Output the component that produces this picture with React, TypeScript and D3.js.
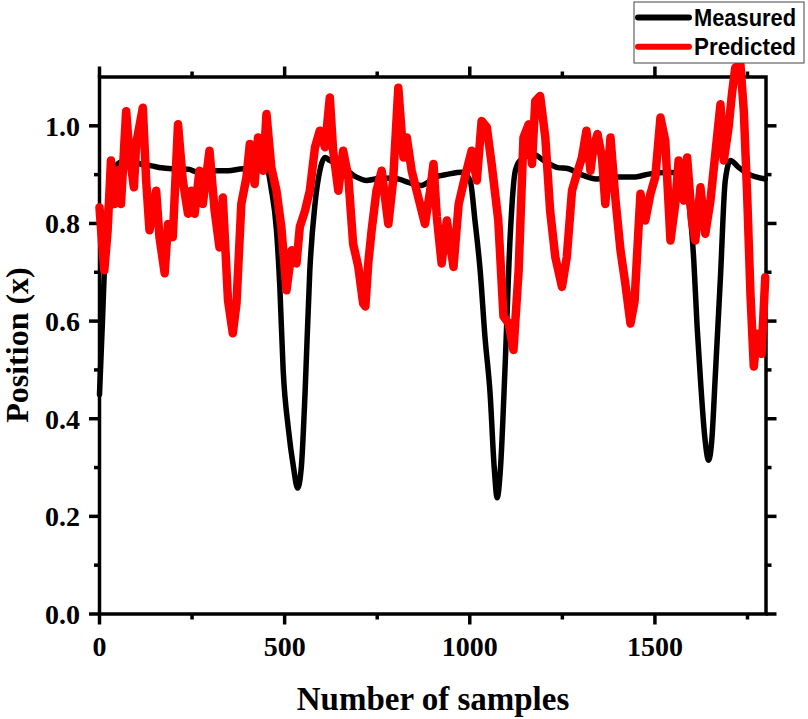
import React from "react";
import * as d3 from "d3";

const measuredSamples = [0, 8, 16, 26, 38, 55, 80, 113, 140, 167, 203, 240, 266, 290, 311, 347, 388, 424, 451, 464, 478, 487, 496, 510, 524, 535, 545, 555, 568, 582, 595, 609, 622, 658, 694, 721, 762, 807, 834, 870, 907, 942, 978, 1001, 1014, 1028, 1041, 1055, 1066, 1074, 1083, 1095, 1109, 1123, 1136, 1172, 1199, 1235, 1267, 1298, 1343, 1388, 1442, 1483, 1537, 1573, 1591, 1605, 1614, 1623, 1635, 1645, 1654, 1663, 1677, 1690, 1704, 1726, 1753, 1798];
const measuredValues = [0.45, 0.6, 0.76, 0.87, 0.91, 0.925, 0.93, 0.921, 0.918, 0.914, 0.912, 0.911, 0.905, 0.907, 0.908, 0.908, 0.912, 0.908, 0.915, 0.87, 0.786, 0.67, 0.5, 0.38, 0.3, 0.258, 0.3, 0.45, 0.704, 0.84, 0.908, 0.935, 0.929, 0.915, 0.895, 0.888, 0.893, 0.891, 0.884, 0.878, 0.895, 0.901, 0.905, 0.888, 0.806, 0.704, 0.568, 0.45, 0.3, 0.238, 0.3, 0.5, 0.772, 0.908, 0.929, 0.942, 0.929, 0.915, 0.912, 0.901, 0.891, 0.895, 0.895, 0.901, 0.905, 0.901, 0.847, 0.724, 0.588, 0.48, 0.36, 0.315, 0.36, 0.487, 0.69, 0.888, 0.929, 0.915, 0.901, 0.891];

const predictedSamples = [0, 7, 13, 22, 31, 40, 50, 58, 72, 81, 93, 99, 117, 126, 135, 153, 162, 176, 185, 198, 212, 225, 239, 248, 257, 270, 279, 297, 311, 324, 333, 347, 360, 370, 383, 397, 406, 419, 428, 442, 451, 464, 478, 491, 505, 519, 532, 541, 555, 568, 582, 595, 609, 622, 631, 645, 658, 672, 685, 699, 712, 718, 726, 735, 748, 762, 780, 793, 807, 821, 830, 843, 861, 879, 893, 902, 911, 924, 938, 956, 970, 987, 1005, 1019, 1032, 1046, 1059, 1077, 1091, 1105, 1118, 1132, 1145, 1159, 1168, 1177, 1190, 1204, 1217, 1231, 1249, 1262, 1276, 1289, 1303, 1315, 1326, 1334, 1345, 1357, 1366, 1380, 1393, 1407, 1420, 1434, 1445, 1455, 1461, 1474, 1488, 1501, 1515, 1528, 1542, 1555, 1564, 1578, 1587, 1600, 1609, 1623, 1636, 1650, 1663, 1677, 1686, 1699, 1708, 1717, 1731, 1740, 1749, 1758, 1767, 1776, 1788, 1798];
const predictedValues = [0.833, 0.76, 0.704, 0.786, 0.929, 0.84, 0.909, 0.84, 1.03, 0.942, 0.874, 0.963, 1.037, 0.888, 0.786, 0.867, 0.772, 0.698, 0.799, 0.772, 1.003, 0.888, 0.82, 0.867, 0.82, 0.908, 0.84, 0.949, 0.826, 0.751, 0.853, 0.643, 0.575, 0.636, 0.84, 0.895, 0.963, 0.881, 0.976, 0.908, 1.024, 0.915, 0.867, 0.793, 0.663, 0.745, 0.718, 0.793, 0.826, 0.867, 0.956, 0.99, 0.956, 1.058, 0.949, 0.867, 0.949, 0.895, 0.758, 0.711, 0.636, 0.63, 0.72, 0.786, 0.867, 0.908, 0.799, 0.888, 1.078, 0.935, 0.976, 0.908, 0.853, 0.799, 0.867, 0.922, 0.813, 0.718, 0.806, 0.711, 0.84, 0.895, 0.949, 0.888, 1.01, 0.997, 0.922, 0.806, 0.61, 0.595, 0.541, 0.704, 0.976, 1.003, 0.922, 1.051, 1.061, 0.976, 0.826, 0.731, 0.67, 0.731, 0.867, 0.901, 0.935, 0.99, 0.908, 0.956, 0.983, 0.935, 0.84, 0.976, 0.853, 0.745, 0.677, 0.595, 0.64, 0.78, 0.861, 0.806, 0.861, 0.895, 1.017, 0.969, 0.765, 0.84, 0.929, 0.847, 0.935, 0.806, 0.765, 0.874, 0.779, 0.847, 0.942, 1.044, 0.929, 0.997, 1.065, 1.119, 1.125, 1.031, 0.861, 0.656, 0.507, 0.574, 0.533, 0.69];

const xMajorTicks = [0, 500, 1000, 1500];
const xMinorTicks = [250, 750, 1250, 1750];
const yMajorTicks = [0, 0.2, 0.4, 0.6, 0.8, 1.0];
const yMinorTicks = [0.1, 0.3, 0.5, 0.7, 0.9];
const seriesNames = ["Measured", "Predicted"];
const seriesColors = ["#000000", "#ff0000"];

const serif = "'Liberation Serif', 'Times New Roman', serif";
const sans = "'Liberation Sans', Arial, sans-serif";

export default function App() {
  const x = d3.scaleLinear().domain([0, 1800]).range([99.5, 766]);
  const y = d3.scaleLinear().domain([0, 1.1]).range([614, 77]);
  const [x0, x1] = x.range();
  const [yb, yt] = y.range();

  const measured = measuredSamples.map((s, i) => [s, measuredValues[i]] as [number, number]);
  const predicted = predictedSamples.map((s, i) => [s, predictedValues[i]] as [number, number]);

  const smoothLine = d3.line<[number, number]>().x(d => x(d[0])).y(d => y(d[1])).curve(d3.curveMonotoneX);
  const rawLine = d3.line<[number, number]>().x(d => x(d[0])).y(d => y(d[1]));

  const sw = 3.5;
  const major = 10.5;
  const minor = 5.5;

  return (
    <svg width={808} height={719} style={{ position: "absolute", left: 0, top: 0, background: "#fff" }}>
      <rect x={0} y={0} width={808} height={719} fill="#fff" />
      <rect x={x0} y={yt} width={x1 - x0} height={yb - yt} fill="none" stroke="#000" strokeWidth={sw} />
      {xMajorTicks.map(t => (
        <g key={"xm" + t}>
          <line x1={x(t)} x2={x(t)} y1={yb} y2={yb + major} stroke="#000" strokeWidth={sw} />
          <line x1={x(t)} x2={x(t)} y1={yt} y2={yt - major} stroke="#000" strokeWidth={sw} />
          <text x={x(t)} y={656} textAnchor="middle" fontFamily={serif} fontWeight="bold" fontSize={28}>{t}</text>
        </g>
      ))}
      {xMinorTicks.map(t => (
        <g key={"xn" + t}>
          <line x1={x(t)} x2={x(t)} y1={yb} y2={yb + minor} stroke="#000" strokeWidth={sw} />
          <line x1={x(t)} x2={x(t)} y1={yt} y2={yt - minor} stroke="#000" strokeWidth={sw} />
        </g>
      ))}
      {yMajorTicks.map(t => (
        <g key={"ym" + t}>
          <line x1={x0} x2={x0 - major} y1={y(t)} y2={y(t)} stroke="#000" strokeWidth={sw} />
          <line x1={x1} x2={x1 + major} y1={y(t)} y2={y(t)} stroke="#000" strokeWidth={sw} />
          <text x={80} y={y(t)} dy="0.35em" textAnchor="end" fontFamily={serif} fontWeight="bold" fontSize={28}>{t.toFixed(1)}</text>
        </g>
      ))}
      {yMinorTicks.map(t => (
        <g key={"yn" + t}>
          <line x1={x0} x2={x0 - minor} y1={y(t)} y2={y(t)} stroke="#000" strokeWidth={sw} />
          <line x1={x1} x2={x1 + minor} y1={y(t)} y2={y(t)} stroke="#000" strokeWidth={sw} />
        </g>
      ))}
      <path d={smoothLine(measured) || ""} fill="none" stroke={seriesColors[0]} strokeWidth={5.5} strokeLinejoin="round" strokeLinecap="round" />
      <path d={rawLine(predicted) || ""} fill="none" stroke={seriesColors[1]} strokeWidth={8.5} strokeLinejoin="round" strokeLinecap="round" />
      <text x={433} y={710} textAnchor="middle" fontFamily={serif} fontWeight="bold" fontSize={33}>Number of samples</text>
      <text transform="translate(28,345) rotate(-90)" textAnchor="middle" fontFamily={serif} fontWeight="bold" fontSize={32}>Position (x)</text>
      <rect x={634} y={2} width={170} height={61} fill="#fff" stroke="#444" strokeWidth={1} />
      {seriesNames.map((n, i) => (
        <g key={n}>
          <line x1={638} x2={689} y1={17.5 + i * 29.3} y2={17.5 + i * 29.3} stroke={seriesColors[i]} strokeWidth={6} strokeLinecap="round" />
          <text x={694} y={26 + i * 29} fontFamily={sans} fontWeight="bold" fontSize={24.5} textLength={102} lengthAdjust="spacingAndGlyphs">{n}</text>
        </g>
      ))}
    </svg>
  );
}
